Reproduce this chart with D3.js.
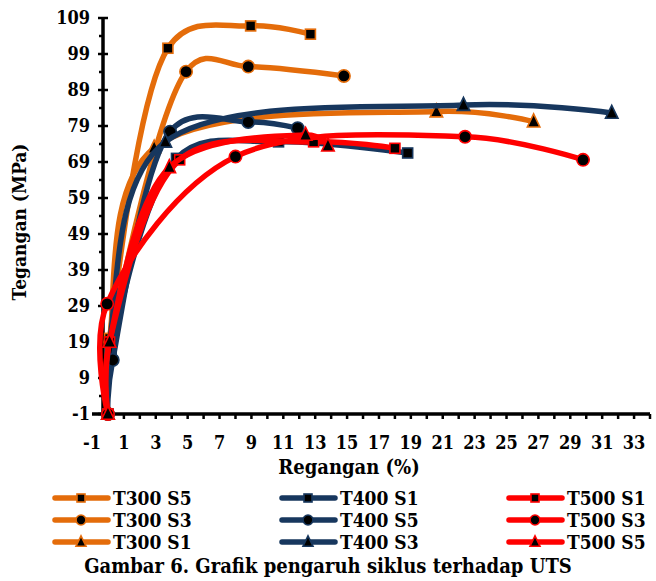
<!DOCTYPE html>
<html lang="en">
<head>
    <meta charset="UTF-8">
    <title>Grafik pengaruh siklus terhadap UTS</title>
    <script src="https://d3js.org/d3.v7.min.js"></script>
    <style>
        body { margin: 0; background: #fff; }
        svg text { font-family: "DejaVu Serif Condensed", "DejaVu Serif", "Liberation Serif", serif; font-weight: bold; fill: #000; }
    </style>
</head>
<body>
    <div id="chart"></div>

    <script>
        // series names, in legend order (column by column)
        const seriesNames = ["T300 S5", "T300 S3", "T300 S1", "T400 S1", "T400 S5", "T400 S3", "T500 S1", "T500 S3", "T500 S5"];
        const seriesColors = ["#E46C0A", "#E46C0A", "#E46C0A", "#17375E", "#17375E", "#17375E", "#FF0000", "#FF0000", "#FF0000"];
        const seriesMarkers = ["square", "circle", "triangle", "square", "circle", "triangle", "square", "circle", "triangle"];

        // regangan (%) and tegangan (MPa)
        const strainT300S5 = [0, 0.1, 3.76, 8.95, 12.7];
        const stressT300S5 = [-1, 20, 100.6, 106.8, 104.5];
        const strainT300S3 = [0, 0.15, 4.9, 8.8, 14.8];
        const stressT300S3 = [-1, 19, 94.1, 95.5, 92.9];
        const strainT300S1 = [0, 0.1, 2.9, 20.6, 26.7];
        const stressT300S1 = [-1, 19, 72.9, 83.0, 80.2];
        const strainT400S1 = [0, 0.2, 4.3, 10.7, 18.8];
        const stressT400S1 = [-1, 17, 70.0, 74.6, 71.5];
        const strainT400S5 = [0, 0.3, 3.9, 8.8, 11.9];
        const stressT400S5 = [-1, 14, 77.4, 80.1, 78.4];
        const strainT400S3 = [0, 0.1, 3.6, 22.3, 31.6];
        const stressT400S3 = [-1, 19, 74.6, 84.8, 82.6];
        const strainT500S1 = [0, 0.1, 4.5, 12.9, 18.0];
        const stressT500S1 = [-1, 19, 69.6, 74.6, 72.8];
        const strainT500S3 = [0, -0.05, 8.0, 22.4, 29.8];
        const stressT500S3 = [-1, 29.6, 70.5, 76.0, 69.6];
        const strainT500S5 = [0, 0.1, 3.85, 12.4, 13.8];
        const stressT500S5 = [-1, 19, 67.5, 76.5, 73.5];

        const strains = [strainT300S5, strainT300S3, strainT300S1, strainT400S1, strainT400S5, strainT400S3, strainT500S1, strainT500S3, strainT500S5];
        const stresses = [stressT300S5, stressT300S3, stressT300S1, stressT400S1, stressT400S5, stressT400S3, stressT500S1, stressT500S3, stressT500S5];

        // axis ticks
        const xTickLabels = d3.range(-1, 34, 2);
        const yTickLabels = d3.range(-1, 110, 10);

        const series = seriesNames.map((name, i) => ({
            name: name,
            color: seriesColors[i],
            marker: seriesMarkers[i],
            points: strains[i].map((s, j) => ({x: s, y: stresses[i][j]}))
        }));

        const W = 656, H = 581;
        const svg = d3.select("#chart").append("svg")
                      .attr("width", W)
                      .attr("height", H);

        const x = d3.scaleLinear().domain([-1, 34]).range([92, 650]);
        const y = d3.scaleLinear().domain([-1, 109]).range([414, 18]);
        const yAxisX = 103;

        // marker shapes
        function drawMarker(g, type, cx, cy, color, size) {
            if (type === "square") {
                g.append("rect")
                 .attr("x", cx - size / 2).attr("y", cy - size / 2)
                 .attr("width", size).attr("height", size)
                 .attr("fill", "#000").attr("stroke", color).attr("stroke-width", 1.6);
            } else if (type === "circle") {
                g.append("circle")
                 .attr("cx", cx).attr("cy", cy).attr("r", size * 0.62)
                 .attr("fill", "#000").attr("stroke", color).attr("stroke-width", 1.6);
            } else {
                const s = size * 1.25;
                g.append("path")
                 .attr("d", `M${cx},${cy - s * 0.62} L${cx + s / 2},${cy + s * 0.42} L${cx - s / 2},${cy + s * 0.42} Z`)
                 .attr("fill", "#000").attr("stroke", color).attr("stroke-width", 1.6);
            }
        }

        // axes
        const axes = svg.append("g");
        axes.append("line")
            .attr("x1", yAxisX).attr("x2", yAxisX)
            .attr("y1", y(109)).attr("y2", y(-1))
            .attr("stroke", "#000").attr("stroke-width", 3.5);
        axes.append("line")
            .attr("x1", x(-1)).attr("x2", x(34))
            .attr("y1", y(-1)).attr("y2", y(-1))
            .attr("stroke", "#000").attr("stroke-width", 3.5);

        // y ticks, major every 10 and minor in between
        d3.range(-1, 110, 5).forEach(v => {
            const major = (v + 1) % 10 === 0;
            axes.append("line")
                .attr("x1", yAxisX - (major ? 5 : 4)).attr("x2", yAxisX + (major ? 5 : 0))
                .attr("y1", y(v)).attr("y2", y(v))
                .attr("stroke", "#000").attr("stroke-width", 2.5);
        });
        yTickLabels.forEach(v => {
            axes.append("text")
                .attr("x", 90).attr("y", y(v))
                .attr("dy", "0.35em")
                .attr("text-anchor", "end")
                .style("font-size", "18px")
                .text(v);
        });

        // x ticks every 1 unit
        d3.range(0, 35, 1).forEach(v => {
            axes.append("line")
                .attr("x1", x(v)).attr("x2", x(v))
                .attr("y1", y(-1)).attr("y2", y(-1) + 5)
                .attr("stroke", "#000").attr("stroke-width", 2.5);
        });
        xTickLabels.forEach(v => {
            axes.append("text")
                .attr("x", x(v)).attr("y", 449)
                .attr("text-anchor", "middle")
                .style("font-size", "18px")
                .text(v);
        });

        // axis titles
        svg.append("text")
           .attr("x", 349).attr("y", 474)
           .attr("text-anchor", "middle")
           .style("font-size", "20px")
           .text("Regangan (%)");
        svg.append("text")
           .attr("transform", "translate(26,222) rotate(-90)")
           .attr("text-anchor", "middle")
           .style("font-size", "19px")
           .text("Tegangan (MPa)");

        // smoothed lines like the spreadsheet ones
        const line = d3.line()
                       .x(d => x(d.x))
                       .y(d => y(d.y))
                       .curve(d3.curveCatmullRom.alpha(0.25));

        series.forEach(s => {
            const g = svg.append("g");
            g.append("path")
             .datum(s.points)
             .attr("fill", "none")
             .attr("stroke", s.color)
             .attr("stroke-width", 5.5)
             .attr("stroke-linecap", "round")
             .attr("d", line);
            s.points.forEach(p => drawMarker(g, s.marker, x(p.x), y(p.y), s.color, 10));
        });

        // legend, three columns
        const legendCols = [55, 282, 509];
        const legendRows = [498, 520, 542];
        series.forEach((s, i) => {
            const lx = legendCols[Math.floor(i / 3)];
            const ly = legendRows[i % 3];
            const g = svg.append("g");
            g.append("line")
             .attr("x1", lx).attr("x2", lx + 53)
             .attr("y1", ly).attr("y2", ly)
             .attr("stroke", s.color).attr("stroke-width", 5.5)
             .attr("stroke-linecap", "round");
            drawMarker(g, s.marker, lx + 26, ly, s.color, 8);
            g.append("text")
             .attr("x", lx + 58).attr("y", ly)
             .attr("dy", "0.35em")
             .style("font-size", "19px")
             .text(s.name);
        });

        // caption
        svg.append("text")
           .attr("x", 328).attr("y", 573)
           .attr("text-anchor", "middle")
           .style("font-size", "20px")
           .text("Gambar 6. Grafik pengaruh siklus terhadap UTS");
    </script>
</body>
</html>
